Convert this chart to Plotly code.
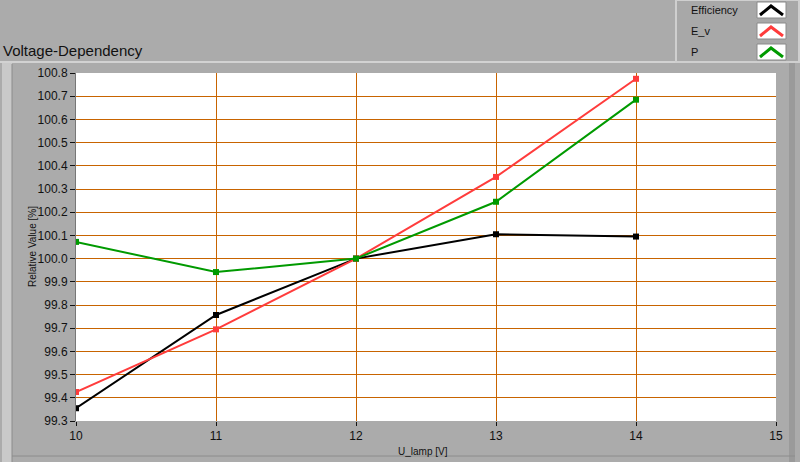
import plotly.graph_objects as go

# data
u_lamp = [10, 11, 12, 13, 14]
efficiency = [99.355, 99.757, 100.0, 100.105, 100.095]
e_v = [99.425, 99.695, 100.0, 100.352, 100.775]
power = [100.072, 99.942, 100.0, 100.245, 100.685]

series = [
    ("Efficiency", efficiency, "#000000"),
    ("E_v", e_v, "#FF3C3C"),
    ("P", power, "#009A00"),
]

W, H = 800, 462
L, R, T, B = 76, 776, 73, 421
BG = "#ABABAB"
GRID = "#C86400"
FONT = "Liberation Sans, Arial, sans-serif"


def px_x(x):
    return (x - L) / (R - L)


def px_y(y):
    return (B - y) / (B - T)


fig = go.Figure()
for name, vals, color in series:
    fig.add_trace(
        go.Scatter(
            x=u_lamp,
            y=vals,
            name=name,
            mode="lines+markers",
            line={"color": color, "width": 2},
            marker={"symbol": "square", "size": 6, "color": color},
            showlegend=False,
        )
    )

shapes = [
    # outer frame pieces
    dict(type="rect", xref="paper", yref="paper", x0=px_x(2), x1=px_x(12), y0=px_y(462), y1=px_y(63),
         fillcolor="#C9C9C9", line={"width": 0}, layer="below"),
    dict(type="line", xref="paper", yref="paper", x0=px_x(0), x1=px_x(678), y0=px_y(62), y1=px_y(62),
         line={"color": "#D2D2D2", "width": 2}),
    dict(type="line", xref="paper", yref="paper", x0=px_x(12), x1=px_x(12), y0=px_y(462), y1=px_y(64),
         line={"color": "#8C8C8C", "width": 1}),
    dict(type="rect", xref="paper", yref="paper", x0=px_x(789), x1=px_x(795), y0=px_y(462), y1=px_y(63),
         fillcolor="#9A9A9A", line={"width": 0}, layer="below"),
    dict(type="line", xref="paper", yref="paper", x0=px_x(12), x1=px_x(795), y0=px_y(456), y1=px_y(456),
         line={"color": "#8C8C8C", "width": 1}),
    # legend panel
    dict(type="rect", xref="paper", yref="paper", x0=px_x(676), x1=px_x(799), y0=px_y(62), y1=px_y(0),
         fillcolor="#A8A8A8", line={"color": "#CFCFCF", "width": 2}),
]

annotations = [
    dict(text="Voltage-Dependency", xref="paper", yref="paper", x=px_x(1), y=px_y(50),
         xanchor="left", yanchor="middle", showarrow=False, font={"family": FONT, "size": 15, "color": "#111111"}),
]

# custom legend: label plus white box with a chevron
for i, (name, vals, color) in enumerate(series):
    top = 2 + i * 21
    annotations.append(
        dict(text=name, xref="paper", yref="paper", x=px_x(689), y=px_y(top + 8),
             xanchor="left", yanchor="middle", showarrow=False,
             font={"family": FONT, "size": 11, "color": "#111111"})
    )
    shapes.append(
        dict(type="rect", xref="paper", yref="paper", x0=px_x(757), x1=px_x(786), y0=px_y(top + 16), y1=px_y(top),
             fillcolor="white", line={"color": "#8A8A8A", "width": 1})
    )
    path = "M {} {} L {} {} L {} {}".format(
        px_x(760), px_y(top + 13), px_x(771), px_y(top + 4), px_x(783), px_y(top + 13)
    )
    shapes.append(dict(type="path", xref="paper", yref="paper", path=path, line={"color": color, "width": 3}))

annotations += [
    dict(text="Relative Value [%]", xref="paper", yref="paper", x=px_x(32), y=0.5, textangle=-90,
         xanchor="center", yanchor="middle", showarrow=False, font={"family": FONT, "size": 10, "color": "#111111"}),
    dict(text="U_lamp [V]", xref="paper", yref="paper", x=px_x(423), y=px_y(451),
         xanchor="center", yanchor="middle", showarrow=False, font={"family": FONT, "size": 10, "color": "#111111"}),
]

fig.update_layout(
    width=W,
    height=H,
    margin={"l": L, "r": W - R, "t": T, "b": H - B},
    paper_bgcolor=BG,
    plot_bgcolor="white",
    shapes=shapes,
    annotations=annotations,
    showlegend=False,
    font={"family": FONT, "size": 12, "color": "#111111"},
    xaxis={
        "range": [10, 15],
        "tickvals": [10, 11, 12, 13, 14, 15],
        "showgrid": True,
        "gridcolor": GRID,
        "gridwidth": 1,
        "zeroline": False,
        "ticks": "outside",
        "ticklen": 4,
        "tickcolor": "#111111",
        "showline": False,
    },
    yaxis={
        "range": [99.3, 100.8],
        "dtick": 0.1,
        "tick0": 99.3,
        "tickformat": ".1f",
        "showgrid": True,
        "gridcolor": GRID,
        "gridwidth": 1,
        "zeroline": False,
        "ticks": "outside",
        "ticklen": 5,
        "tickcolor": "#111111",
        "showline": True,
        "linecolor": "#777777",
        "linewidth": 1,
    },
)

# drop the default page margin so the figure sits at the window's top-left corner
fig.write_html(
    "out.html",
    config={"displayModeBar": False},
    post_script="document.body.style.margin='0';document.body.style.overflow='hidden';",
)
